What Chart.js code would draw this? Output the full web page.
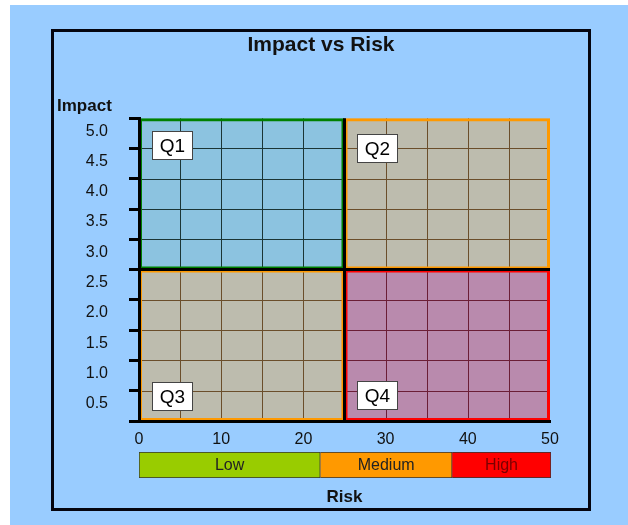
<!DOCTYPE html>
<html><head><meta charset="utf-8">
<script src="https://cdn.jsdelivr.net/npm/chart.js@4.4.1/dist/chart.umd.min.js"></script>
<style>
html,body{margin:0;padding:0;background:#fff;width:628px;height:525px;overflow:hidden;font-family:"Liberation Sans",Arial,sans-serif;}
#bg{position:absolute;left:10px;top:5px;width:618px;height:520px;background:#99CCFF;}
#frame{position:absolute;left:51px;top:29px;width:540px;height:482px;box-sizing:border-box;border:3px solid #05050f;}
#main{position:absolute;left:0;top:0;}
#yTitle{position:absolute;left:57px;top:96px;font:bold 17px "Liberation Sans",Arial,sans-serif;line-height:20px;color:#111;}
#bandWrap{position:absolute;left:139px;top:452px;width:412px;height:26px;}
#band{display:block;}
</style></head>
<body>
<div id="bg"></div>
<div id="frame"></div>
<canvas id="main" width="628" height="525"></canvas>
<div id="yTitle"></div>
<div id="bandWrap"><canvas id="band" width="412" height="26"></canvas></div>
<script>
// ---- data ----
const chartTitle = 'Impact vs Risk';
const xTitle = 'Risk';
const yTitle = 'Impact';
const quadrantNames = ['Q1', 'Q2', 'Q3', 'Q4'];
const quadRiskFrom = [0, 25, 0, 25];
const quadRiskTo = [25, 50, 25, 50];
const quadImpactFrom = [2.5, 2.5, 0, 0];
const quadImpactTo = [5, 5, 2.5, 2.5];
const quadLabelRisk = [4, 29, 4, 29];
const quadLabelImpact = [4.55, 4.5, 0.42, 0.43];
const riskRange = [0, 50];
const impactRange = [0, 5];
const riskDivider = 25;
const impactDivider = 2.5;
const bandNames = ['Low', 'Medium', 'High'];
const bandLimits = [0, 22, 38, 50];

// ---- styles ----
const FONT = '"Liberation Sans", Arial, sans-serif';
const quadFill = ['#8CC3E0', '#BDBCAE', '#BDBCAE', '#B98AAD'];
const quadBorder = ['#008000', '#FF9900', '#FF9900', '#FF0000'];
const quadGrid = ['#1B3535', '#6B4E2B', '#6B4E2B', '#6B1E36'];
const bandFill = ['#99CC00', '#FF9900', '#FF0000'];
const bandText = ['#222', '#222', '#7A0000'];

Chart.defaults.font.family = FONT;
document.getElementById('yTitle').textContent = yTitle;

const datasets = quadrantNames.map((q, i) => ({
  label: q,
  quadrant: i,
  order: 10,
  data: [
    {x: quadRiskFrom[i], y: quadImpactFrom[i]},
    {x: quadRiskTo[i], y: quadImpactFrom[i]},
    {x: quadRiskTo[i], y: quadImpactTo[i]},
    {x: quadRiskFrom[i], y: quadImpactTo[i]},
    {x: quadRiskFrom[i], y: quadImpactFrom[i]}
  ],
  backgroundColor: quadFill[i],
  borderColor: quadBorder[i],
  borderWidth: 6,
  fill: 'shape',
  pointRadius: 0,
  tension: 0,
  borderJoinStyle: 'miter'
}));
datasets.push({
  label: 'riskDivider', order: 0,
  data: [{x: riskDivider, y: impactRange[0]}, {x: riskDivider, y: impactRange[1]}],
  borderColor: '#000', borderWidth: 3, fill: false, pointRadius: 0, borderCapStyle: 'square'
});
datasets.push({
  label: 'impactDivider', order: 0,
  data: [{x: riskRange[0], y: impactDivider}, {x: riskRange[1], y: impactDivider}],
  borderColor: '#000', borderWidth: 3, fill: false, pointRadius: 0, borderCapStyle: 'square'
});

const quadPlugin = {
  id: 'quadGrid',
  beforeDatasetDraw(chart, args) {
    const ds = chart.data.datasets[args.index];
    if (ds.quadrant === undefined) return;
    const i = ds.quadrant, xs = chart.scales.x, ys = chart.scales.y, ctx = chart.ctx;
    const l = xs.getPixelForValue(quadRiskFrom[i]), r = xs.getPixelForValue(quadRiskTo[i]);
    const t = ys.getPixelForValue(quadImpactTo[i]), b = ys.getPixelForValue(quadImpactFrom[i]);
    ctx.save();
    ctx.beginPath();
    ctx.rect(l, t, r - l, b - t);
    ctx.clip();
    ctx.strokeStyle = quadGrid[i];
    ctx.lineWidth = 1;
    ctx.beginPath();
    xs.ticks.forEach(tk => {
      if (tk.value > quadRiskFrom[i] && tk.value < quadRiskTo[i]) {
        const p = Math.round(xs.getPixelForValue(tk.value)) + 0.5;
        ctx.moveTo(p, t); ctx.lineTo(p, b);
      }
    });
    ys.ticks.forEach(tk => {
      if (tk.value > quadImpactFrom[i] && tk.value < quadImpactTo[i]) {
        const p = Math.round(ys.getPixelForValue(tk.value)) + 0.5;
        ctx.moveTo(l, p); ctx.lineTo(r, p);
      }
    });
    ctx.stroke();
  },
  afterDatasetDraw(chart, args) {
    const ds = chart.data.datasets[args.index];
    if (ds.quadrant === undefined) return;
    chart.ctx.restore();
  },
  afterDatasetsDraw(chart) {
    const xs = chart.scales.x, ys = chart.scales.y, ctx = chart.ctx;
    ctx.save();
    ctx.font = '19px ' + FONT;
    quadrantNames.forEach((name, i) => {
      const cx = xs.getPixelForValue(quadLabelRisk[i]);
      const cy = ys.getPixelForValue(quadLabelImpact[i]);
      const w = Math.round(ctx.measureText(name).width + 15), h = 28;
      const l = Math.round(cx - w / 2) + 0.5, t = Math.round(cy - h / 2) + 0.5;
      ctx.fillStyle = '#fff';
      ctx.fillRect(l, t, w, h);
      ctx.strokeStyle = '#444';
      ctx.lineWidth = 1;
      ctx.strokeRect(l, t, w, h);
      ctx.fillStyle = '#000';
      ctx.textAlign = 'center';
      ctx.textBaseline = 'middle';
      ctx.fillText(name, l + w / 2, t + h / 2 + 1);
    });
    ctx.restore();
  }
};

new Chart(document.getElementById('main'), {
  type: 'line',
  data: {datasets},
  options: {
    responsive: false,
    animation: false,
    devicePixelRatio: 1,
    layout: {padding: {left: 52, right: 38, top: 29, bottom: 14}},
    plugins: {
      legend: {display: false},
      tooltip: {enabled: false},
      title: {
        display: true, text: chartTitle, color: '#111',
        font: {size: 21, weight: 'bold', family: FONT},
        padding: {top: 4, bottom: 60}
      }
    },
    scales: {
      x: {
        type: 'linear', min: riskRange[0], max: riskRange[1],
        ticks: {
          stepSize: 5, autoSkip: false, maxRotation: 0, padding: 9, color: '#111',
          font: {size: 16, family: FONT},
          callback: v => (v % 10 === 0 ? String(v) : '')
        },
        grid: {display: false, drawTicks: false},
        border: {display: true, color: '#000', width: 3, z: 1},
        title: {display: true, text: xTitle, color: '#111', font: {size: 17, weight: 'bold', family: FONT}, padding: {top: 0, bottom: 3}},
        afterFit(s) { s.height = 90; }
      },
      y: {
        type: 'linear', min: impactRange[0], max: impactRange[1],
        ticks: {
          stepSize: 0.5, labelOffset: 13, padding: 21, color: '#111',
          font: {size: 16, family: FONT},
          callback: v => (v === 0 ? '' : Number(v).toFixed(1))
        },
        grid: {drawOnChartArea: false, drawTicks: true, tickLength: 10, tickWidth: 3, tickColor: '#000'},
        border: {display: true, color: '#000', width: 3, z: 1},
        afterFit(s) { s.width = 87; }
      },
      spacer: {
        type: 'linear', position: 'right', display: true,
        ticks: {display: false},
        grid: {display: false, drawTicks: false},
        border: {display: false},
        afterFit(s) { s.width = 40; }
      }
    }
  },
  plugins: [quadPlugin]
});

// ---- risk band ----
const bandLabelPlugin = {
  id: 'bandLabels',
  afterDatasetsDraw(chart) {
    const ctx = chart.ctx;
    ctx.save();
    ctx.font = '16px ' + FONT;
    ctx.textAlign = 'center';
    ctx.textBaseline = 'middle';
    chart.data.datasets.forEach((ds, i) => {
      const el = chart.getDatasetMeta(i).data[0];
      ctx.fillStyle = bandText[i];
      ctx.fillText(bandNames[i], (el.x + el.base) / 2, el.y + 1);
    });
    ctx.restore();
  }
};

new Chart(document.getElementById('band'), {
  type: 'bar',
  data: {
    labels: ['band'],
    datasets: bandNames.map((n, i) => ({
      label: n,
      data: [[bandLimits[i], bandLimits[i + 1]]],
      backgroundColor: bandFill[i],
      borderColor: '#333',
      borderWidth: {top: 1, bottom: 1, left: i === 0 ? 1 : 0, right: 1},
      borderSkipped: false,
      grouped: false,
      barPercentage: 1,
      categoryPercentage: 1
    }))
  },
  options: {
    indexAxis: 'y',
    responsive: false,
    animation: false,
    devicePixelRatio: 1,
    layout: {padding: 0},
    plugins: {legend: {display: false}, tooltip: {enabled: false}, title: {display: false}},
    scales: {
      x: {type: 'linear', min: riskRange[0], max: riskRange[1], display: false},
      y: {display: false}
    }
  },
  plugins: [bandLabelPlugin]
});
</script>
</body></html>
